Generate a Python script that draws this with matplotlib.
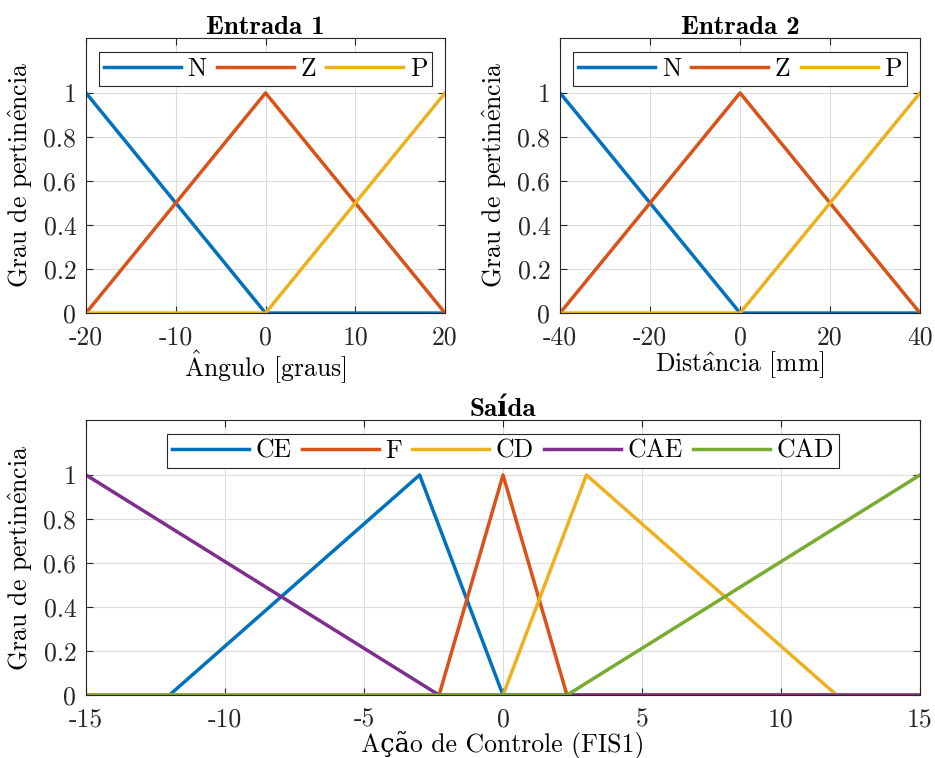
import numpy as np
import matplotlib
matplotlib.use("Agg")
from matplotlib import pyplot as plt

# membership functions as (x breakpoints, y values)
e1_names = ['N', 'Z', 'P']
e1_x = [[-20, 0, 20], [-20, 0, 20], [-20, 0, 20]]
e1_y = [[1, 0, 0], [0, 1, 0], [0, 0, 1]]

e2_names = ['N', 'Z', 'P']
e2_x = [[-40, 0, 40], [-40, 0, 40], [-40, 0, 40]]
e2_y = [[1, 0, 0], [0, 1, 0], [0, 0, 1]]

s_names = ['CE', 'F', 'CD', 'CAE', 'CAD']
s_x = [[-15, -12, -3, 0, 15],
       [-15, -2.3, 0, 2.3, 15],
       [-15, 0, 3, 12, 15],
       [-15, -2.3, 15],
       [-15, 2.3, 15]]
s_y = [[0, 0, 1, 0, 0],
       [0, 0, 1, 0, 0],
       [0, 0, 1, 0, 0],
       [1, 0, 0],
       [0, 0, 1]]

colors = ['#0072BD', '#D95319', '#EDB120', '#7E2F8E', '#77AC30']

plt.rcParams['font.family'] = ['cmr10', 'DejaVu Serif']
plt.rcParams['mathtext.fontset'] = 'cm'
plt.rcParams['axes.unicode_minus'] = False
plt.rcParams['font.size'] = 18.5
plt.rcParams['axes.edgecolor'] = '#262626'
plt.rcParams['xtick.color'] = '#262626'
plt.rcParams['ytick.color'] = '#262626'
plt.rcParams['xtick.direction'] = 'in'
plt.rcParams['ytick.direction'] = 'in'

FS = 18.5

fig = plt.figure(figsize=(9.35, 7.58), dpi=100)
ax1 = fig.add_axes([0.092, 0.587, 0.384, 0.363])
ax2 = fig.add_axes([0.599, 0.587, 0.385, 0.363])
ax3 = fig.add_axes([0.092, 0.083, 0.892, 0.363])


def draw(ax, names, xs, ys, xlim, xticks, title, xlabel):
    for i in range(len(names)):
        ax.plot(xs[i], ys[i], color=colors[i], lw=2.5, label=names[i],
                solid_joinstyle='round')
    ax.set_xlim(xlim)
    ax.set_ylim(0, 1.25)
    ax.set_xticks(xticks)
    ax.set_yticks([0, 0.2, 0.4, 0.6, 0.8, 1])
    ax.set_yticklabels(['0', '0.2', '0.4', '0.6', '0.8', '1'])
    ax.tick_params(top=True, right=True, length=5, width=0.8,
                   labelsize=FS, pad=7)
    ax.tick_params(axis='x', pad=9)
    ax.grid(True, color='#dcdcdc', lw=0.8)
    ax.set_axisbelow(True)
    for s in ax.spines.values():
        s.set_linewidth(0.8)
    ax.set_title(title, fontsize=19.5, fontweight='bold',
                 family=['cmb10', 'DejaVu Serif'], pad=3)
    ax.set_xlabel(xlabel, fontsize=FS, labelpad=0)
    ax.set_ylabel(r'Grau de pertin$\hat{\mathrm{e}}$ncia', fontsize=FS, labelpad=6)
    leg = ax.legend(loc='upper center', ncol=len(names), fontsize=FS,
                    handlelength=3.0, handletextpad=0.25,
                    columnspacing=0.4, borderpad=0.2, fancybox=False,
                    framealpha=1, edgecolor='#262626',
                    borderaxespad=0.55, bbox_to_anchor=(0.5, 1.0))
    leg.get_frame().set_linewidth(0.8)


draw(ax1, e1_names, e1_x, e1_y, (-20, 20), [-20, -10, 0, 10, 20],
     'Entrada 1', r'$\hat{\mathrm{A}}$ngulo [graus]')
draw(ax2, e2_names, e2_x, e2_y, (-40, 40), [-40, -20, 0, 20, 40],
     'Entrada 2', r'Dist$\hat{\mathrm{a}}$ncia [mm]')
draw(ax3, s_names, s_x, s_y, (-15, 15), [-15, -10, -5, 0, 5, 10, 15],
     'Saída', r'A'+'ção de Controle (FIS1)')

fig.savefig('out.png', dpi=100)
